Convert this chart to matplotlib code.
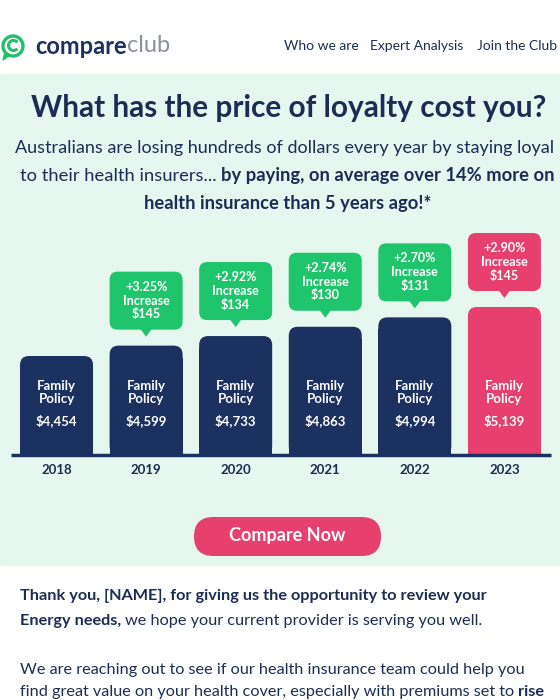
import matplotlib.pyplot as plt
from matplotlib.patches import FancyBboxPatch, Rectangle, Polygon, Circle, Arc

plt.rcParams['font.family'] = ['Lato', 'DejaVu Sans']

# chart data
years = ['2018', '2019', '2020', '2021', '2022', '2023']
premiums = [4454, 4599, 4733, 4863, 4994, 5139]
increase_pct = [None, 3.25, 2.92, 2.74, 2.70, 2.90]
increase_amt = [None, 145, 134, 130, 131, 145]

NAVY = '#1b3160'
TEXT = '#1c2d55'
GREEN = '#1fc56a'
PINK = '#e8406e'
MINT = '#e5f7ef'

fig = plt.figure(figsize=(5.6, 7), dpi=100, facecolor='white')

# full-figure pixel canvas for the layout pieces
pix = fig.add_axes([0, 0, 1, 1])
pix.set_xlim(0, 560)
pix.set_ylim(700, 0)
pix.axis('off')

# chart axes: bars are placed through its data scale
ax = fig.add_axes([11 / 560, 245 / 700, 540 / 560, 225 / 700])
ax.set_xlim(-0.508, 5.52)
ax.set_ylim(3070, 3070 + 225 / 0.07153)
ax.axis('off')

renderer = fig.canvas.get_renderer()


def to_pix(x, y):
    return pix.transData.inverted().transform(ax.transData.transform((x, y)))


def text_width(s, size, weight):
    t = pix.text(0, 0, s, fontsize=size, fontweight=weight)
    w = t.get_window_extent(renderer).width
    t.remove()
    return w


def runs(y, parts, size, x=None, center=None, color=TEXT, spaced=True):
    """Draw one line made of (text, weight, colour) pieces."""
    widths = [text_width(s, size, w) for s, w, c in parts]
    gaps = []
    for s, w, c in parts:
        g = text_width('x x', size, w) - text_width('xx', size, w)
        gaps.append(g if spaced else 0.5)
    total = sum(widths) + sum(gaps[:-1])
    if center is not None:
        x = center - total / 2
    for (s, w, c), wd, g in zip(parts, widths, gaps):
        pix.text(x, y, s, fontsize=size, fontweight=w, color=c or color,
                 ha='left', va='center')
        x += wd + g


# backgrounds
pix.add_patch(Rectangle((0, 74), 560, 491, color=MINT, zorder=0))

# header: logo + nav
pix.add_patch(Circle((13, 46), 10, fill=False, lw=2.4, ec='#22c06b'))
pix.add_patch(Arc((13.5, 45.5), 10, 10, theta1=40, theta2=320, lw=2.2, color='#22c06b'))
pix.add_patch(Polygon([[5, 52], [3, 60], [10, 55]], closed=True, color='#22c06b'))
runs(46, [('compare', 'bold', NAVY), ('club', 'normal', '#8c9099')], 17, x=35, spaced=False)
pix.text(284, 46, 'Who we are', fontsize=10, color=TEXT, va='center')
pix.text(370, 46, 'Expert Analysis', fontsize=10, color=TEXT, va='center')
pix.text(477, 46, 'Join the Club', fontsize=10, color=TEXT, va='center')

# title + intro
pix.text(288.5, 108, 'What has the price of loyalty cost you?', fontsize=21.4,
         fontweight='bold', color=TEXT, ha='center', va='center')
runs(148, [('Australians are losing hundreds of dollars every year by staying loyal', 'normal', None)],
     13.0, center=285)
runs(176, [('to their health insurers...', 'normal', None),
           ('by paying, on average over 14% more on', 'bold', None)], 13.2, center=287.5)
runs(204, [('health insurance than 5 years ago!*', 'bold', None)], 13.2, center=287.5)

# bars and callouts
bw = 0.815
base = ax.get_ylim()[0]
for i, (yr, v) in enumerate(zip(years, premiums)):
    last = i == len(years) - 1
    col = PINK if last else NAVY
    x0, ytop = to_pix(i - bw / 2, v)
    x1, ybase = to_pix(i + bw / 2, base)
    cx = (x0 + x1) / 2
    pix.add_patch(FancyBboxPatch((x0, ytop), x1 - x0, ybase - ytop,
                                 boxstyle='round,pad=0,rounding_size=9', color=col, lw=0))
    pix.add_patch(Rectangle((x0, ytop + 12), x1 - x0, ybase - ytop - 12, color=col, lw=0))
    pix.text(cx, 386, 'Family', fontsize=9.5, fontweight='bold', color='white', ha='center', va='center')
    pix.text(cx, 399, 'Policy', fontsize=9.5, fontweight='bold', color='white', ha='center', va='center')
    pix.text(cx, 421, f'${v:,}', fontsize=9.5, fontweight='bold', color='white', ha='center', va='center')
    pix.text(cx, 470, yr, fontsize=9.5, fontweight='bold', color=TEXT, ha='center', va='center')

    if increase_pct[i] is not None:
        ccol = PINK if last else GREEN
        b_bot = ytop - 16
        b_top = ytop - 74
        pix.add_patch(FancyBboxPatch((x0, b_top), x1 - x0, b_bot - b_top,
                                     boxstyle='round,pad=0,rounding_size=8', color=ccol, lw=0))
        pix.add_patch(Polygon([[cx - 6, b_bot - 1], [cx + 6, b_bot - 1], [cx, ytop - 9]],
                              closed=True, color=ccol, lw=0))
        cy = (b_top + b_bot) / 2
        pix.text(cx, cy - 14, f'+{increase_pct[i]:.2f}%', fontsize=9, fontweight='bold',
                 color='white', ha='center', va='center')
        pix.text(cx, cy, 'Increase', fontsize=9, fontweight='bold', color='white', ha='center', va='center')
        pix.text(cx, cy + 13.5, f'${increase_amt[i]}', fontsize=9, fontweight='bold',
                 color='white', ha='center', va='center')

# baseline
xl, yb = to_pix(ax.get_xlim()[0], base)
xr, _ = to_pix(ax.get_xlim()[1], base)
pix.plot([xl, xr], [yb, yb], color=NAVY, lw=2.5, solid_capstyle='butt')

# button
pix.add_patch(FancyBboxPatch((194, 517), 187, 39, boxstyle='round,pad=0,rounding_size=19.5',
                             color=PINK, lw=0))
pix.text(287.5, 536, 'Compare Now', fontsize=13, fontweight='bold', color='white',
         ha='center', va='center')

# body copy
runs(596, [('Thank you, [NAME], for giving us the opportunity to review your', 'bold', None)], 11.7, x=20)
runs(621, [('Energy needs,', 'bold', None),
           ('we hope your current provider is serving you well.', 'normal', None)], 11.7, x=20)
runs(670, [('We are reaching out to see if our health insurance team could help you', 'normal', None)],
     11.7, x=20)
runs(692, [('find great value on your health cover, especially with premiums set to', 'normal', None),
           ('rise', 'bold', None)], 11.7, x=20)

fig.savefig('out.png', dpi=100, facecolor='white')
